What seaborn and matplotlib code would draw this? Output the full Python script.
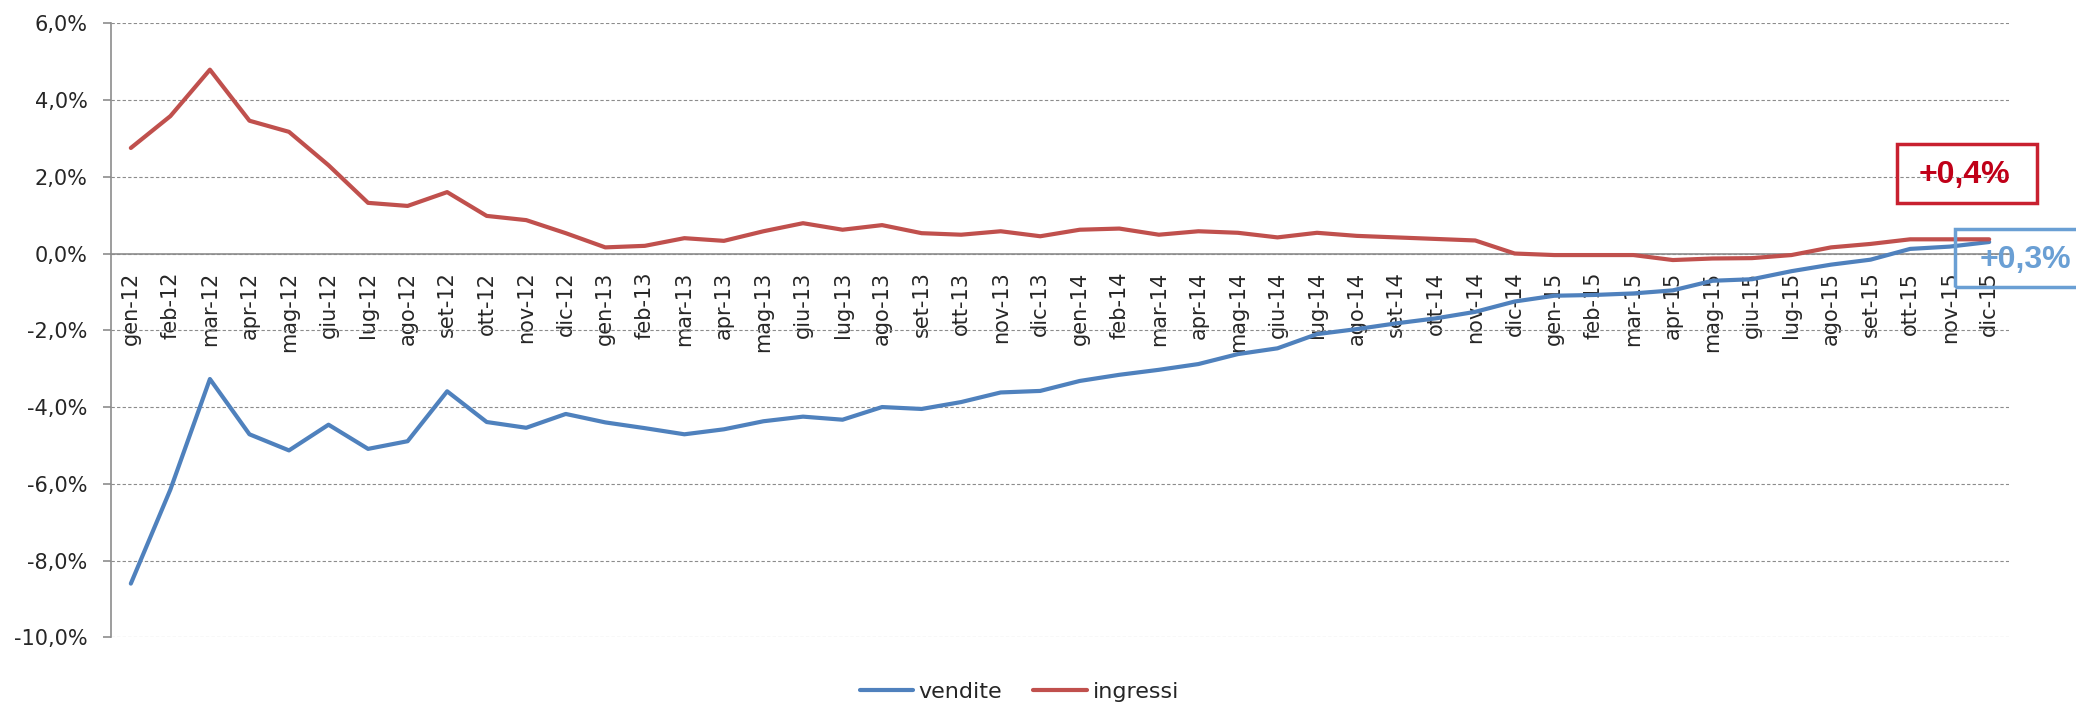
import pandas as pd
import matplotlib
matplotlib.use("Agg")
import matplotlib.pyplot as plt
import seaborn as sns
from matplotlib.patches import Rectangle
from matplotlib.ticker import FixedLocator, FuncFormatter

# --- DATI ---
mesi = ["gen", "feb", "mar", "apr", "mag", "giu", "lug", "ago", "set", "ott", "nov", "dic"]
anni = ["12", "13", "14", "15"]
etichette = [f"{m}-{a}" for a in anni for m in mesi]

vendite = [
    -8.60, -6.15, -3.27, -4.71, -5.13, -4.46, -5.09, -4.89, -3.59, -4.39, -4.54, -4.18,
    -4.40, -4.55, -4.71, -4.58, -4.37, -4.25, -4.33, -4.00, -4.05, -3.87, -3.62, -3.58,
    -3.32, -3.16, -3.03, -2.88, -2.62, -2.47, -2.10, -1.97, -1.82, -1.69, -1.52, -1.25,
    -1.10, -1.08, -1.04, -0.96, -0.71, -0.67, -0.46, -0.29, -0.16, 0.12, 0.18, 0.30,
]
ingressi = [
    2.75, 3.58, 4.79, 3.46, 3.17, 2.30, 1.32, 1.24, 1.60, 0.98, 0.87, 0.53,
    0.16, 0.20, 0.40, 0.33, 0.58, 0.79, 0.62, 0.74, 0.53, 0.49, 0.58, 0.45,
    0.62, 0.65, 0.49, 0.58, 0.54, 0.42, 0.54, 0.46, 0.42, 0.38, 0.34, 0.00,
    -0.04, -0.04, -0.04, -0.17, -0.13, -0.12, -0.04, 0.16, 0.25, 0.37, 0.37, 0.37,
]
serie = ["vendite", "ingressi"]
colori = {"vendite": "#4F81BD", "ingressi": "#C0504D"}
y_ticks = [6, 4, 2, 0, -2, -4, -6, -8, -10]

df = pd.DataFrame({
    "pos": list(range(len(etichette))) * 2,
    "valore": vendite + ingressi,
    "serie": ["vendite"] * len(vendite) + ["ingressi"] * len(ingressi),
})

# --- GRAFICO ---
sns.set_style("white")
plt.rcParams["font.family"] = ["DejaVu Sans"]

fig = plt.figure(figsize=(20.76, 7.04), dpi=100)
ax = fig.add_axes([0.0535, 0.0947, 0.9142, 0.8723])

sns.lineplot(data=df, x="pos", y="valore", hue="serie", hue_order=serie,
             palette=colori, linewidth=3, ax=ax, legend=False, zorder=5)

ax.set_xlim(-0.5, len(etichette) - 0.5)
ax.set_ylim(-10, 6)
ax.set_xlabel("")
ax.set_ylabel("")

# griglia tratteggiata
ax.set_axisbelow(True)
ax.yaxis.set_major_locator(FixedLocator(y_ticks))
ax.yaxis.set_major_formatter(FuncFormatter(lambda v, p: f"{v:.1f}%".replace(".", ",")))
ax.yaxis.grid(True, color="#8C8C8C", linestyle=(0, (3, 2)), linewidth=0.8)
ax.xaxis.grid(False)

# assi
for s in ["top", "right"]:
    ax.spines[s].set_visible(False)
ax.spines["left"].set_color("#8C8C8C")
ax.spines["left"].set_linewidth(1.2)
ax.spines["bottom"].set_position(("data", 0))
ax.spines["bottom"].set_color("#8C8C8C")
ax.spines["bottom"].set_linewidth(1.2)
ax.spines["bottom"].set_zorder(3)

ax.set_xticks(range(len(etichette)))
ax.set_xticklabels(etichette, rotation=90, ha="center", va="top")
ax.set_xticks([i + 0.5 for i in range(len(etichette) - 1)], minor=True)
ax.tick_params(axis="x", which="major", length=0, pad=13, labelsize=15)
ax.tick_params(axis="x", which="minor", length=6, width=1.2, color="#8C8C8C", direction="out")
ax.tick_params(axis="y", which="major", length=6, width=1.2, color="#8C8C8C",
               direction="out", pad=11, labelsize=15, left=True)

# legenda
handles = [plt.Line2D([], [], color=colori[s], linewidth=3) for s in serie]
fig.legend(handles, serie, loc="center", bbox_to_anchor=(0.491, 0.017),
           ncol=2, frameon=False, fontsize=16, handlelength=2.4,
           handletextpad=0.25, columnspacing=1.4)

# box valori finali
fig.add_artist(Rectangle((1897 / 2076, 1 - 203 / 704), 140 / 2076, 59 / 704,
                         transform=fig.transFigure, fill=False,
                         edgecolor="#C8202F", linewidth=2.5, zorder=10))
fig.text(1964 / 2076, 1 - 175 / 704, "+0,4%", color="#C00018", fontsize=23,
         fontweight="bold", family=["Liberation Sans", "DejaVu Sans"],
         ha="center", va="center", zorder=11)

fig.add_artist(Rectangle((1955 / 2076, 1 - 287 / 704), 150 / 2076, 58 / 704,
                         transform=fig.transFigure, fill=False,
                         edgecolor="#6A9FD4", linewidth=2.5, zorder=10))
fig.text(2025 / 2076, 1 - 260 / 704, "+0,3%", color="#6A9FD4", fontsize=23,
         fontweight="bold", family=["Liberation Sans", "DejaVu Sans"],
         ha="center", va="center", zorder=11)

fig.savefig("out.png", dpi=100)
plt.close("all")
